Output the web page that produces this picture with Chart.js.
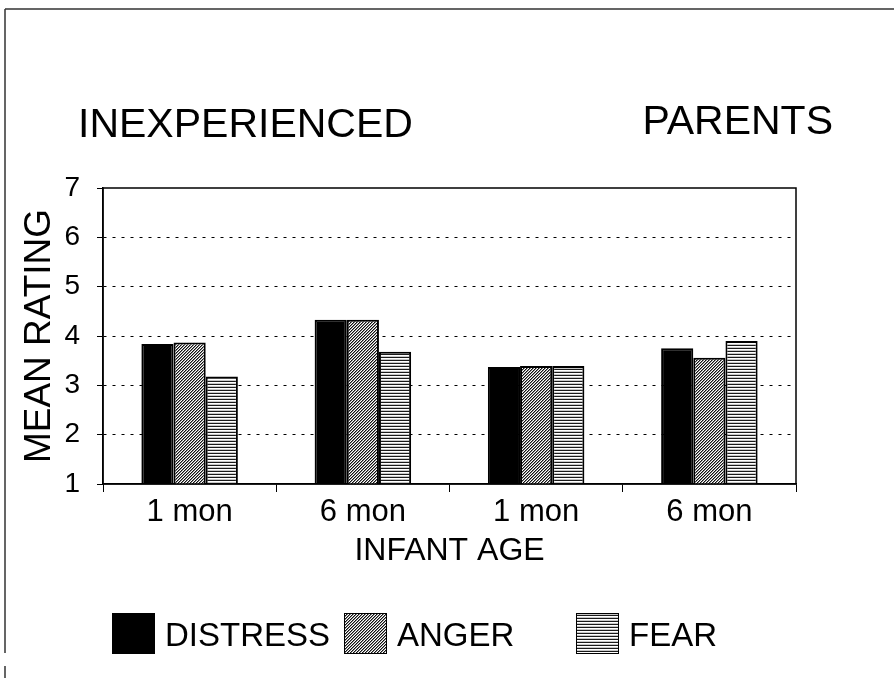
<!DOCTYPE html>
<html lang="en">
<head>
<meta charset="UTF-8">
<title>Inexperienced Parents - Mean Rating</title>
<script src="https://cdn.jsdelivr.net/npm/chart.js"></script>
<style>
  html, body { margin: 0; padding: 0; background: #fff; }
  canvas { display: block; }
</style>
</head>
<body>
<canvas id="chart" width="894" height="678"></canvas>
<script>
// data
const categories = ['1 mon', '6 mon', '1 mon', '6 mon'];
const distress = [3.84, 4.33, 3.37, 3.75];
const anger = [3.87, 4.33, 3.39, 3.56];
const fear = [3.18, 3.68, 3.39, 3.90];
const seriesNames = ['DISTRESS', 'ANGER', 'FEAR'];
const yMin = 1, yMax = 7;
const titleLeft = 'INEXPERIENCED';
const titleRight = 'PARENTS';
const yTitle = 'MEAN RATING';
const xTitle = 'INFANT AGE';

const FONT = '"Liberation Sans", Arial, Helvetica, sans-serif';

// fine diagonal hatch for anger
function hatchPattern() {
    const t = document.createElement('canvas');
    t.width = 3; t.height = 3;
    const g = t.getContext('2d');
    g.fillStyle = '#fff';
    g.fillRect(0, 0, 3, 3);
    for (let x = 0; x < 3; x++) {
        for (let y = 0; y < 3; y++) {
            const k = (x + y) % 3;
            if (k === 0) { g.fillStyle = '#111'; g.fillRect(x, y, 1, 1); }
            if (k === 1) { g.fillStyle = '#8a8a8a'; g.fillRect(x, y, 1, 1); }
        }
    }
    return g.createPattern(t, 'repeat');
}

// horizontal lines for fear
function stripePattern() {
    const t = document.createElement('canvas');
    t.width = 4; t.height = 3;
    const g = t.getContext('2d');
    g.fillStyle = '#1a1a1a'; g.fillRect(0, 0, 4, 1);
    g.fillStyle = '#ffffff'; g.fillRect(0, 1, 4, 1);
    g.fillStyle = '#c8c8c8'; g.fillRect(0, 2, 4, 1);
    return g.createPattern(t, 'repeat');
}

const decor = {
    id: 'decor',
    beforeDraw(chart) {
        const c = chart.ctx;
        c.save();
        c.fillStyle = '#fff';
        c.fillRect(0, 0, chart.width, chart.height);
        // scanned page frame
        c.strokeStyle = '#333';
        c.lineWidth = 1.5;
        c.beginPath();
        c.moveTo(5, 9); c.lineTo(chart.width, 9);
        c.moveTo(5, 9); c.lineTo(5, 653);
        c.moveTo(5, 666); c.lineTo(5, chart.height);
        c.stroke();
        // two-part heading
        c.fillStyle = '#000';
        c.font = '41px ' + FONT;
        c.textBaseline = 'alphabetic';
        c.textAlign = 'left';
        c.fillText(titleLeft, 78, 137);
        c.textAlign = 'right';
        c.fillText(titleRight, 833, 134);
        c.restore();
    },
    afterDraw(chart) {
        const c = chart.ctx, a = chart.chartArea;
        c.save();
        c.strokeStyle = '#000';
        c.lineWidth = 1.5;
        c.strokeRect(a.left, a.top, a.right - a.left, a.bottom - a.top);
        // legend in fixed slots
        chart.data.datasets.forEach((ds, i) => {
            const x = a.left + 9 + i * 232, y = 613;
            c.fillStyle = ds.backgroundColor;
            c.fillRect(x, y, 43, 41);
            c.lineWidth = 1;
            c.strokeStyle = '#000';
            c.strokeRect(x + 0.5, y + 0.5, 42, 40);
            c.fillStyle = '#000';
            c.font = '33px ' + FONT;
            c.textAlign = 'left';
            c.textBaseline = 'alphabetic';
            c.fillText(ds.label, x + 53, 646);
        });
        c.restore();
    }
};

const ctx = document.getElementById('chart').getContext('2d');
new Chart(ctx, {
    type: 'bar',
    data: {
        labels: categories,
        datasets: [
            { label: seriesNames[0], data: distress, backgroundColor: '#000' },
            { label: seriesNames[1], data: anger, backgroundColor: hatchPattern() },
            { label: seriesNames[2], data: fear, backgroundColor: stripePattern() }
        ]
    },
    options: {
        responsive: false,
        animation: false,
        events: [],
        layout: { padding: { top: 188, left: 0, right: 98, bottom: 94 } },
        datasets: {
            bar: {
                borderColor: '#000',
                borderWidth: 2,
                barPercentage: 1,
                categoryPercentage: 0.557
            }
        },
        plugins: {
            legend: { display: false },
            tooltip: { enabled: false }
        },
        scales: {
            x: {
                afterFit: s => { s.height = 100; },
                grid: {
                    offset: true,
                    drawOnChartArea: false,
                    color: '#000',
                    tickLength: 8,
                    lineWidth: 1
                },
                border: { display: true, color: '#000', width: 1.5 },
                ticks: {
                    color: '#000',
                    padding: 2,
                    font: { family: FONT, size: 31 }
                },
                title: {
                    display: true,
                    text: xTitle,
                    color: '#000',
                    font: { family: FONT, size: 32 },
                    padding: { top: 0, bottom: 14 }
                }
            },
            y: {
                min: yMin,
                max: yMax,
                afterFit: s => { s.width = 103; },
                ticks: {
                    stepSize: 0.5,
                    color: '#000',
                    padding: 17,
                    font: { family: FONT, size: 28 },
                    callback: v => Number.isInteger(v) ? v : ''
                },
                grid: {
                    color: c => (Number.isInteger(c.tick.value) && c.tick.value > yMin && c.tick.value < yMax) ? '#000' : 'rgba(0,0,0,0)',
                    tickColor: '#000',
                    tickLength: 6,
                    tickBorderDash: [1, 0],
                    lineWidth: 1
                },
                border: { display: true, color: '#000', width: 1.5, dash: [3, 6] },
                title: {
                    display: true,
                    text: yTitle,
                    color: '#000',
                    font: { family: FONT, size: 37 },
                    padding: { top: 18, bottom: 0 }
                }
            }
        }
    },
    plugins: [decor]
});
</script>
</body>
</html>
